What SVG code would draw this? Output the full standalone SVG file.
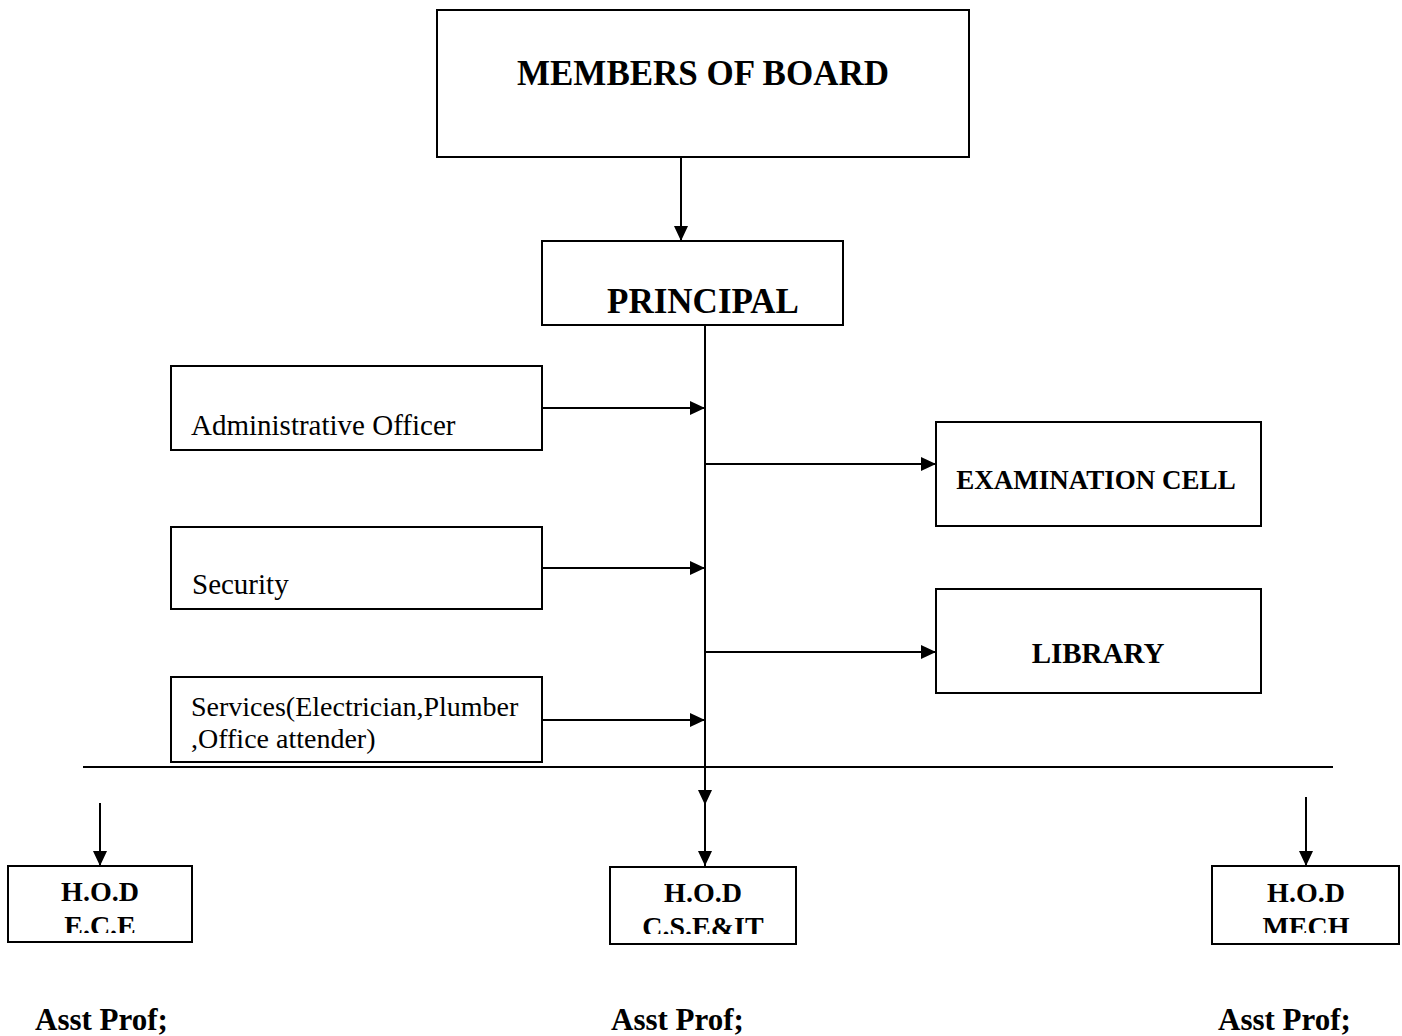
<svg xmlns="http://www.w3.org/2000/svg" width="1402" height="1036" viewBox="0 0 1402 1036">
<style>
.box{fill:#fff;stroke:#000;stroke-width:2}
.ln{stroke:#000;stroke-width:2;fill:none}
.t{font-family:"Liberation Serif","Times New Roman",serif;fill:#000}
.b{font-weight:bold}
</style>
<defs>
<marker id="ah" markerUnits="userSpaceOnUse" markerWidth="16" markerHeight="16" viewBox="0 0 16 16" refX="15" refY="8" orient="auto">
<path d="M0,1 L15,8 L0,15 Z" fill="#000"/>
</marker>
<clipPath id="c1"><rect x="8" y="866" width="184" height="67"/></clipPath>
<clipPath id="c2"><rect x="610" y="867" width="186" height="67"/></clipPath>
<clipPath id="c3"><rect x="1212" y="866" width="187" height="67"/></clipPath>
</defs>
<g id="members"><rect class="box" x="437" y="10" width="532" height="147"/><text class="t b" x="703" y="85" font-size="35" text-anchor="middle">MEMBERS OF BOARD</text></g>
<g id="principal"><rect class="box" x="542" y="241" width="301" height="84"/><text class="t b" x="703" y="313" font-size="35" text-anchor="middle">PRINCIPAL</text></g>
<g id="admin"><rect class="box" x="171" y="366" width="371" height="84"/><text class="t" x="191" y="435" font-size="29">Administrative Officer</text></g>
<g id="security"><rect class="box" x="171" y="527" width="371" height="82"/><text class="t" x="192" y="594" font-size="29">Security</text></g>
<g id="services"><rect class="box" x="171" y="677" width="371" height="85"/><text class="t" x="191" y="716" font-size="28">Services(Electrician,Plumber</text><text class="t" x="191" y="748" font-size="28">,Office attender)</text></g>
<g id="exam"><rect class="box" x="936" y="422" width="325" height="104"/><text class="t b" x="1096" y="489" font-size="27" text-anchor="middle">EXAMINATION CELL</text></g>
<g id="library"><rect class="box" x="936" y="589" width="325" height="104"/><text class="t b" x="1098" y="663" font-size="29" text-anchor="middle">LIBRARY</text></g>
<g id="hod-ece"><rect class="box" x="8" y="866" width="184" height="76"/><g clip-path="url(#c1)"><text class="t b" x="100" y="901" font-size="28" text-anchor="middle">H.O.D</text><text class="t b" x="100" y="935" font-size="28" text-anchor="middle">E.C.E</text></g></g>
<g id="hod-cse"><rect class="box" x="610" y="867" width="186" height="77"/><g clip-path="url(#c2)"><text class="t b" x="703" y="902" font-size="28" text-anchor="middle">H.O.D</text><text class="t b" x="703" y="936" font-size="28" text-anchor="middle">C.S.E&amp;IT</text></g></g>
<g id="hod-mech"><rect class="box" x="1212" y="866" width="187" height="78"/><g clip-path="url(#c3)"><text class="t b" x="1306" y="902" font-size="28" text-anchor="middle">H.O.D</text><text class="t b" x="1306" y="936" font-size="28" text-anchor="middle">MECH</text></g></g>
<g id="asst"><text class="t b" x="35" y="1030" font-size="31">Asst Prof;</text><text class="t b" x="611" y="1030" font-size="31">Asst Prof;</text><text class="t b" x="1218" y="1030" font-size="31">Asst Prof;</text></g>
<g id="connectors">
<line class="ln" x1="681" y1="157" x2="681" y2="241" marker-end="url(#ah)"/>
<line class="ln" x1="705" y1="325" x2="705" y2="805" marker-end="url(#ah)"/>
<line class="ln" x1="705" y1="800" x2="705" y2="866" marker-end="url(#ah)"/>
<line class="ln" x1="542" y1="408" x2="705" y2="408" marker-end="url(#ah)"/>
<line class="ln" x1="542" y1="568" x2="705" y2="568" marker-end="url(#ah)"/>
<line class="ln" x1="542" y1="720" x2="705" y2="720" marker-end="url(#ah)"/>
<line class="ln" x1="705" y1="464" x2="936" y2="464" marker-end="url(#ah)"/>
<line class="ln" x1="705" y1="652" x2="936" y2="652" marker-end="url(#ah)"/>
<line class="ln" x1="83" y1="767" x2="1333" y2="767"/>
<line class="ln" x1="100" y1="803" x2="100" y2="866" marker-end="url(#ah)"/>
<line class="ln" x1="1306" y1="797" x2="1306" y2="866" marker-end="url(#ah)"/>
</g>
</svg>
